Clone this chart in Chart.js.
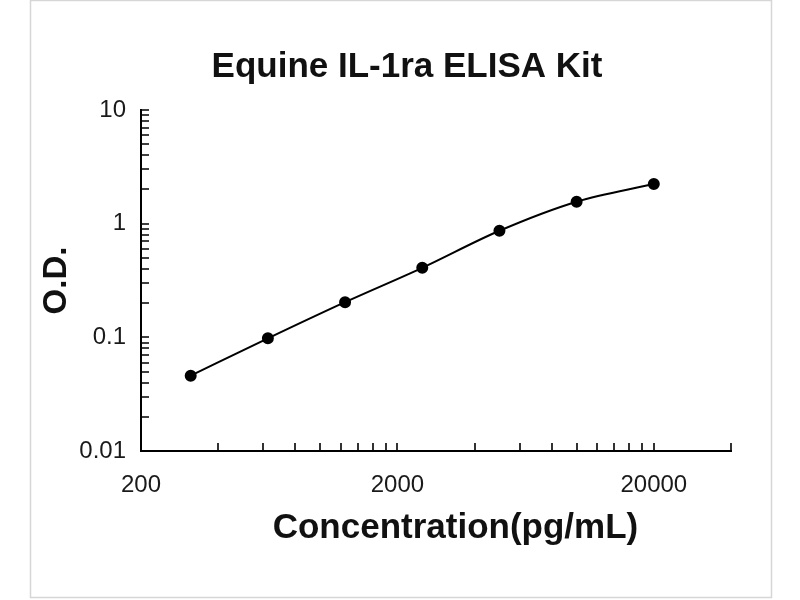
<!DOCTYPE html>
<html>
<head>
<meta charset="utf-8">
<script src="https://cdn.jsdelivr.net/npm/chart.js@4.4.1/dist/chart.umd.min.js"></script>
<style>
  html, body { margin: 0; padding: 0; background: #fff; }
  #wrap { width: 800px; height: 600px; }
</style>
</head>
<body>
<div id="wrap"><canvas id="chart" width="800" height="600"></canvas></div>
<script>
// standard curve values
const concentrations = [312.5, 625, 1250, 2500, 5000, 10000, 20000];
const odValues = [0.046, 0.098, 0.204, 0.409, 0.866, 1.56, 2.23];

const xTickLabels = [200, 2000, 20000];
const yTickLabels = [0.01, 0.1, 1, 10];

// small inside tick marks (Excel style)
const xTickMarks = [200, 400, 600, 800, 1000, 1200, 1400, 1600, 1800, 2000,
    4000, 6000, 8000, 10000, 12000, 14000, 16000, 18000, 20000, 40000];
const yTickMarks = [0.01, 0.02, 0.03, 0.04, 0.05, 0.06, 0.07, 0.08, 0.09,
    0.1, 0.2, 0.3, 0.4, 0.5, 0.6, 0.7, 0.8, 0.9,
    1, 2, 3, 4, 5, 6, 7, 8, 9, 10];

const points = concentrations.map((c, i) => ({ x: c, y: odValues[i] }));

const FONT = 'Liberation Sans, Arial, sans-serif';

const frameAndTicks = {
    id: 'frameAndTicks',
    beforeDraw(chart) {
        const ctx = chart.ctx;
        ctx.save();
        ctx.fillStyle = '#fff';
        ctx.fillRect(0, 0, chart.width, chart.height);
        ctx.strokeStyle = '#d6d6d6';
        ctx.lineWidth = 1.5;
        ctx.strokeRect(30.5, 0.5, 741, 597);
        ctx.restore();
    },
    afterDraw(chart) {
        const ctx = chart.ctx;
        const xs = chart.scales.x;
        const ys = chart.scales.y;
        const area = chart.chartArea;
        ctx.save();
        ctx.strokeStyle = '#000';
        ctx.lineWidth = 1.6;
        ctx.beginPath();
        xTickMarks.forEach(v => {
            const px = Math.round(xs.getPixelForValue(v));
            ctx.moveTo(px, area.bottom);
            ctx.lineTo(px, area.bottom - 8);
        });
        yTickMarks.forEach(v => {
            const py = Math.round(ys.getPixelForValue(v));
            ctx.moveTo(area.left, py);
            ctx.lineTo(area.left + 8, py);
        });
        ctx.stroke();
        ctx.restore();
    }
};

new Chart(document.getElementById('chart'), {
    type: 'scatter',
    data: {
        datasets: [{
            label: 'O.D.',
            data: points,
            showLine: true,
            borderColor: '#000',
            backgroundColor: '#000',
            borderWidth: 2,
            pointRadius: 5,
            pointHoverRadius: 5,
            tension: 0.3,
            cubicInterpolationMode: 'monotone'
        }]
    },
    options: {
        responsive: false,
        animation: false,
        devicePixelRatio: 1,
        layout: { padding: { left: 14, right: 0, top: 0, bottom: 0 } },
        plugins: {
            legend: { display: false },
            tooltip: { enabled: false },
            title: {
                display: true,
                text: 'Equine IL-1ra ELISA Kit',
                color: '#111',
                font: { family: FONT, size: 35, weight: 'bold' },
                padding: { top: 46, bottom: 22 }
            }
        },
        scales: {
            x: {
                type: 'logarithmic',
                min: 200,
                max: 40000,
                afterBuildTicks: scale => { scale.ticks = xTickLabels.map(v => ({ value: v })); },
                afterFit: scale => { scale.height = 149; },
                ticks: {
                    color: '#1a1a1a',
                    padding: 20,
                    maxRotation: 0,
                    autoSkip: false,
                    font: { family: FONT, size: 24 },
                    callback: v => String(v)
                },
                grid: { drawOnChartArea: false, drawTicks: false },
                border: { color: '#000', width: 2 },
                title: {
                    display: true,
                    text: '    Concentration(pg/mL)',
                    color: '#111',
                    font: { family: FONT, size: 35, weight: 'bold' },
                    padding: { top: 0, bottom: 51 }
                }
            },
            y: {
                type: 'logarithmic',
                min: 0.01,
                max: 10,
                afterBuildTicks: scale => { scale.ticks = yTickLabels.map(v => ({ value: v })); },
                afterFit: scale => { scale.width = 127; },
                ticks: {
                    color: '#1a1a1a',
                    padding: 15,
                    autoSkip: false,
                    font: { family: FONT, size: 24 },
                    callback: v => String(v)
                },
                grid: { drawOnChartArea: false, drawTicks: false },
                border: { color: '#000', width: 2 },
                title: {
                    display: true,
                    text: 'O.D.',
                    color: '#111',
                    font: { family: FONT, size: 33, weight: 'bold' },
                    padding: { top: 23, bottom: 0 }
                }
            },
            // empty right-hand axis that only reserves the white space
            spacer: {
                type: 'linear',
                position: 'right',
                afterFit: scale => { scale.width = 69; },
                ticks: { display: false },
                grid: { display: false },
                border: { display: false }
            }
        }
    },
    plugins: [frameAndTicks]
});
</script>
</body>
</html>
